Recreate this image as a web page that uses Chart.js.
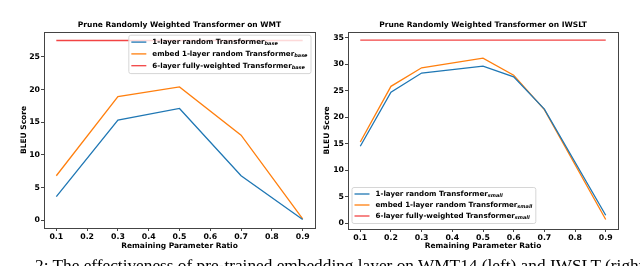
<!DOCTYPE html>
<html>
<head>
<meta charset="utf-8">
<script src="https://cdn.jsdelivr.net/npm/chart.js@4"></script>
<style>
  html, body { margin: 0; padding: 0; background: #fff; }
  #page { position: relative; width: 640px; height: 266px; overflow: hidden; }
  .panel { position: absolute; top: 0; width: 320px; height: 266px; }
  #caption {
    position: absolute; left: 35px; top: 257px; white-space: nowrap;
    font: 17.3px/17px "Liberation Serif", serif; color: #000;
  }
</style>
</head>
<body>
<div id="page">
  <div class="panel" style="left:0"><canvas id="wmtChart" width="320" height="266"></canvas></div>
  <div class="panel" style="left:320px"><canvas id="iwsltChart" width="320" height="266"></canvas></div>
  <div id="caption">2: The effectiveness of pre-trained embedding layer on WMT14 (left) and IWSLT (right) tasks.</div>
</div>
<script>
// data
const seriesLabels = ['1-layer random Transformer', 'embed 1-layer random Transformer', '6-layer fully-weighted Transformer'];
const colors = ['#1f77b4', '#ff7f0e', '#f24444'];

const wmtRatios = [0.1, 0.3, 0.5, 0.7, 0.9];
const wmtRandom = [3.6, 15.3, 17.1, 6.8, 0.1];
const wmtEmbed = [6.8, 18.9, 20.4, 13.0, 0.2];
const wmtFull = 27.5;

const iwsltRatios = [0.1, 0.2, 0.3, 0.5, 0.6, 0.7, 0.9];
const iwsltRandom = [14.5, 24.7, 28.3, 29.6, 27.6, 21.5, 1.5];
const iwsltEmbed = [15.3, 25.8, 29.3, 31.1, 27.9, 21.4, 0.7];
const iwsltFull = 34.5;

const xTicks = [0.1, 0.2, 0.3, 0.4, 0.5, 0.6, 0.7, 0.8, 0.9];
const wmtYTicks = [0, 5, 10, 15, 20, 25];
const iwsltYTicks = [0, 5, 10, 15, 20, 25, 30, 35];

const FONT = '"DejaVu Sans", sans-serif';

// frame around the plot area
const frame = {
    id: 'frame',
    beforeDatasetsDraw(chart) {
        const a = chart.chartArea, ctx = chart.ctx;
        ctx.save();
        ctx.strokeStyle = '#444';
        ctx.lineWidth = 1;
        ctx.strokeRect(Math.round(a.left) + 0.5, Math.round(a.top) + 0.5,
            Math.round(a.right - a.left), Math.round(a.bottom - a.top));
        ctx.restore();
    }
};

// matplotlib-like legend drawn inside the axes
const insideLegend = {
    id: 'insideLegend',
    afterDatasetsDraw(chart, args, opts) {
        const ctx = chart.ctx, a = chart.chartArea;
        const mainFont = 'bold 7.1px ' + FONT;
        const subFont = 'bold italic 5px ' + FONT;
        const sets = chart.data.datasets;
        ctx.save();
        let maxW = 0;
        sets.forEach(ds => {
            ctx.font = mainFont;
            let w = ctx.measureText(ds.label).width;
            ctx.font = subFont;
            w += ctx.measureText(opts.sub).width;
            maxW = Math.max(maxW, w);
        });
        const pad = 3, handle = 15, gap = 6, rowH = opts.rowH;
        const boxW = pad + handle + gap + maxW + pad;
        const boxH = sets.length * rowH + 3;
        const x0 = opts.corner === 'upper right' ? a.right - opts.dx - boxW : a.left + opts.dx;
        const y0 = opts.corner === 'upper right' ? a.top + opts.dy : a.bottom - opts.dy - boxH;

        ctx.beginPath();
        ctx.roundRect(x0 + 0.5, y0 + 0.5, boxW, boxH, 2);
        ctx.fillStyle = 'rgba(255,255,255,0.8)';
        ctx.fill();
        ctx.strokeStyle = '#d6d6d6';
        ctx.lineWidth = 1;
        ctx.stroke();

        sets.forEach((ds, i) => {
            const y = y0 + 1.5 + rowH * (i + 0.5);
            ctx.strokeStyle = ds.borderColor;
            ctx.lineWidth = 1.3;
            ctx.beginPath();
            ctx.moveTo(x0 + pad, y);
            ctx.lineTo(x0 + pad + handle, y);
            ctx.stroke();
            ctx.fillStyle = '#000';
            ctx.textBaseline = 'middle';
            ctx.font = mainFont;
            const tx = x0 + pad + handle + gap;
            ctx.fillText(ds.label, tx, y);
            const w = ctx.measureText(ds.label).width;
            ctx.font = subFont;
            ctx.fillText(opts.sub, tx + w, y + 2);
        });
        ctx.restore();
    }
};

function makeChart(id, cfg) {
    const ctx = document.getElementById(id).getContext('2d');
    const line = (label, xs, ys, color) => ({
        label: label,
        data: xs.map((x, i) => ({ x: x, y: ys[i] })),
        borderColor: color,
        backgroundColor: color,
        borderWidth: 1.3,
        pointRadius: 0,
        tension: 0,
        fill: false
    });
    return new Chart(ctx, {
        type: 'line',
        data: {
            datasets: [
                line(seriesLabels[0], cfg.xs, cfg.random, colors[0]),
                line(seriesLabels[1], cfg.xs, cfg.embed, colors[1]),
                line(seriesLabels[2], [xTicks[0], xTicks[xTicks.length - 1]], [cfg.full, cfg.full], colors[2])
            ]
        },
        options: {
            responsive: false,
            animation: false,
            layout: { padding: { left: 0, right: cfg.padRight, top: 0, bottom: 0 } },
            plugins: {
                legend: { display: false },
                tooltip: { enabled: false },
                title: {
                    display: true,
                    fullSize: false,
                    text: cfg.title,
                    color: '#000',
                    font: { family: FONT, size: 7.5, weight: 'bold' },
                    padding: { top: cfg.titleTop, bottom: cfg.titleBottom }
                },
                insideLegend: cfg.legend
            },
            scales: {
                x: {
                    type: 'linear',
                    min: 0.06,
                    max: 0.94,
                    afterBuildTicks: s => { s.ticks = xTicks.map(v => ({ value: v })); },
                    afterFit: s => { s.height = cfg.xHeight; },
                    grid: { drawOnChartArea: false, drawTicks: true, tickLength: 3, color: '#444' },
                    border: { display: false },
                    ticks: {
                        color: '#000',
                        padding: 1.5,
                        maxRotation: 0,
                        font: { family: FONT, size: 7.8, weight: 'bold' },
                        callback: v => v.toFixed(1)
                    },
                    title: {
                        display: true,
                        text: 'Remaining Parameter Ratio',
                        color: '#000',
                        font: { family: FONT, size: 7.5, weight: 'bold' },
                        padding: { top: 0, bottom: 15.8 }
                    }
                },
                y: {
                    min: cfg.yMin,
                    max: cfg.yMax,
                    afterBuildTicks: s => { s.ticks = cfg.yTicks.map(v => ({ value: v })); },
                    afterFit: s => { s.width = cfg.yWidth; },
                    grid: { drawOnChartArea: false, drawTicks: true, tickLength: 3, color: '#444' },
                    border: { display: false },
                    ticks: {
                        color: '#000',
                        padding: 1,
                        font: { family: FONT, size: 7.8, weight: 'bold' }
                    },
                    title: {
                        display: true,
                        text: 'BLEU Score',
                        color: '#000',
                        font: { family: FONT, size: 7.5, weight: 'bold' },
                        padding: { top: cfg.yTitlePad, bottom: 0 }
                    }
                }
            }
        },
        plugins: [frame, insideLegend]
    });
}

makeChart('wmtChart', {
    title: 'Prune Randomly Weighted Transformer on WMT',
    xs: wmtRatios, random: wmtRandom, embed: wmtEmbed, full: wmtFull,
    yTicks: wmtYTicks, yMin: -1.2, yMax: 28.8,
    padRight: 5, yWidth: 44, xHeight: 38, titleTop: 20.8, titleBottom: 2.2, yTitlePad: 19.8,
    legend: { corner: 'upper right', dx: 4.5, dy: 2.7, rowH: 11.8, sub: 'base' }
});

makeChart('iwsltChart', {
    title: 'Prune Randomly Weighted Transformer on IWSLT',
    xs: iwsltRatios, random: iwsltRandom, embed: iwsltEmbed, full: iwsltFull,
    yTicks: iwsltYTicks, yMin: -1.1, yMax: 36.1,
    padRight: 22, yWidth: 28, xHeight: 37, titleTop: 20.8, titleBottom: 1.9, yTitlePad: 2.2,
    legend: { corner: 'lower left', dx: 3.5, dy: 6, rowH: 11, sub: 'small' }
});
</script>
</body>
</html>
